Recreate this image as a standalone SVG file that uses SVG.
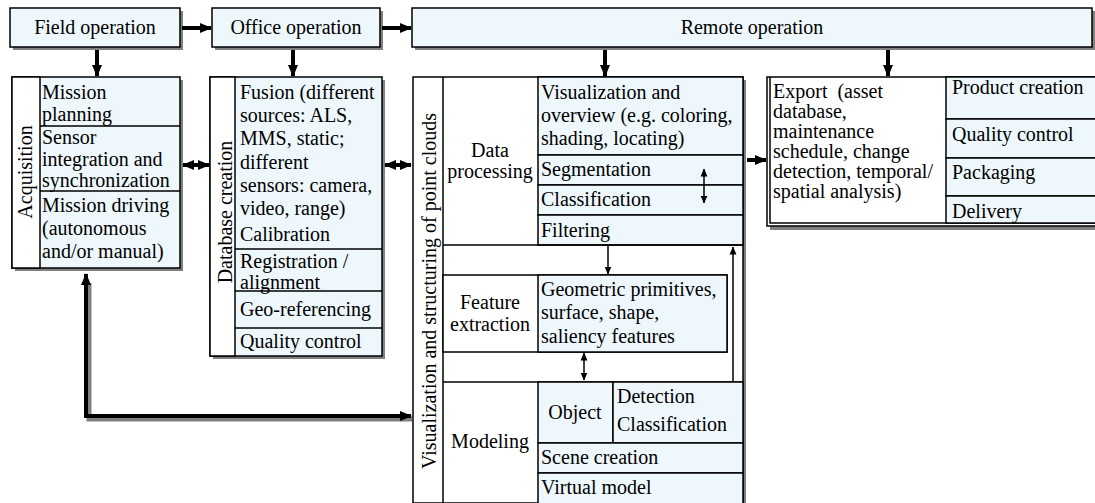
<svg xmlns="http://www.w3.org/2000/svg" width="1095" height="503" viewBox="0 0 1095 503" font-family="'Liberation Serif', 'DejaVu Serif', serif" font-size="20">
<defs>
<marker id="ah" markerUnits="userSpaceOnUse" markerWidth="12" markerHeight="12" viewBox="0 0 12 12" refX="11" refY="6" orient="auto-start-reverse"><path d="M0,1 L12,6 L0,11 Z" fill="#000"/></marker>
<marker id="at" markerUnits="userSpaceOnUse" markerWidth="8" markerHeight="8" viewBox="0 0 8 8" refX="7.5" refY="4" orient="auto-start-reverse"><path d="M0,0.5 L8,4 L0,7.5 Z" fill="#000"/></marker>
<style>
text{font-family:'Liberation Serif','DejaVu Serif',serif;font-size:20px;fill:#000}
.m{text-anchor:middle}
.sh{fill:#808080}
.bx{fill:#eef7fb;stroke:#000;stroke-width:1.5}
.wb{fill:#fff;stroke:#000;stroke-width:1.5}
.ln{stroke:#000;stroke-width:1.5;fill:none}
.thick{stroke:#000;stroke-width:4;fill:none}
.thin{stroke:#000;stroke-width:1.5;fill:none}
</style>
</defs>
<rect width="1095" height="503" fill="#fff"/>

<g id="field">
<rect class="sh" x="13" y="11" width="170" height="39"/>
<rect class="bx" x="10" y="8" width="170" height="39"/>
<text class="m" x="95" y="34">Field operation</text>
</g>
<g id="office">
<rect class="sh" x="215" y="11" width="168" height="39"/>
<rect class="bx" x="212" y="8" width="168" height="39"/>
<text class="m" x="296" y="34">Office operation</text>
</g>
<g id="remote">
<rect class="sh" x="415" y="11" width="680" height="39"/>
<rect class="bx" x="412" y="8" width="680" height="39"/>
<text class="m" x="752" y="34">Remote operation</text>
</g>

<g id="acquisition">
<rect class="sh" x="15" y="80" width="168" height="191"/>
<rect class="bx" x="12" y="77" width="168" height="191"/>
<rect class="wb" x="12" y="77" width="28" height="191"/>
<line class="ln" x1="40" y1="126" x2="180" y2="126"/>
<line class="ln" x1="40" y1="191" x2="180" y2="191"/>
<text class="m" transform="translate(32,172) rotate(-90)">Acquisition</text>
<text x="42" y="99">Mission</text>
<text x="42" y="121">planning</text>
<text x="42" y="144">Sensor</text>
<text x="42" y="166">integration and</text>
<text x="42" y="187">synchronization</text>
<text x="42" y="212">Mission driving</text>
<text x="42" y="235">(autonomous</text>
<text x="42" y="258">and/or manual)</text>
</g>

<g id="database">
<rect class="sh" x="213" y="80" width="172" height="279"/>
<rect class="bx" x="210" y="77" width="172" height="279"/>
<rect class="wb" x="210" y="77" width="25" height="279"/>
<line class="ln" x1="235" y1="249" x2="382" y2="249"/>
<line class="ln" x1="235" y1="291" x2="382" y2="291"/>
<line class="ln" x1="235" y1="328" x2="382" y2="328"/>
<text class="m" transform="translate(232,212) rotate(-90)">Database creation</text>
<text x="240" y="99">Fusion (different</text>
<text x="240" y="122">sources: ALS,</text>
<text x="240" y="145">MMS, static;</text>
<text x="240" y="169">different</text>
<text x="240" y="192">sensors: camera,</text>
<text x="240" y="215">video, range)</text>
<text x="240" y="241">Calibration</text>
<text x="240" y="268">Registration /</text>
<text x="240" y="289">alignment</text>
<text x="240" y="316">Geo-referencing</text>
<text x="240" y="348">Quality control</text>
</g>

<g id="visualization">
<rect class="sh" x="416" y="80" width="330" height="426"/>
<rect class="wb" x="413" y="77" width="330" height="426"/>
<line class="ln" x1="443" y1="77" x2="443" y2="503"/>
<text class="m" transform="translate(436,291) rotate(-90)">Visualization and structuring of point clouds</text>
</g>

<g id="data-processing">
<rect class="bx" x="538" y="77" width="205" height="78"/>
<rect class="bx" x="538" y="155" width="205" height="30"/>
<rect class="bx" x="538" y="185" width="205" height="30"/>
<rect class="bx" x="538" y="215" width="205" height="30"/>
<line class="ln" x1="443" y1="245" x2="743" y2="245"/>
<text class="m" x="490" y="157">Data</text>
<text class="m" x="490" y="178">processing</text>
<text x="541" y="99">Visualization and</text>
<text x="541" y="122">overview (e.g. coloring,</text>
<text x="541" y="145">shading, locating)</text>
<text x="541" y="176">Segmentation</text>
<text x="541" y="206">Classification</text>
<text x="541" y="237">Filtering</text>
</g>

<g id="feature-extraction">
<rect class="wb" x="443" y="275" width="284" height="77"/>
<rect class="bx" x="538" y="275" width="189" height="77"/>
<text class="m" x="490" y="309">Feature</text>
<text class="m" x="490" y="331">extraction</text>
<text x="541" y="296">Geometric primitives,</text>
<text x="541" y="319">surface, shape,</text>
<text x="541" y="343">saliency features</text>
</g>

<g id="modeling">
<line class="ln" x1="443" y1="382" x2="743" y2="382"/>
<rect class="bx" x="538" y="382" width="75" height="61"/>
<rect class="bx" x="613" y="382" width="130" height="61"/>
<rect class="bx" x="538" y="443" width="205" height="30"/>
<rect class="bx" x="538" y="473" width="205" height="32"/>
<text class="m" x="490" y="448">Modeling</text>
<text class="m" x="575" y="419">Object</text>
<text x="617" y="403">Detection</text>
<text x="617" y="431">Classification</text>
<text x="541" y="464">Scene creation</text>
<text x="541" y="494">Virtual model</text>
</g>

<g id="export">
<rect class="sh" x="770" y="80" width="330" height="150"/>
<rect class="wb" x="767" y="77" width="330" height="149"/>
<polyline class="ln" points="770,77 770,223 1097,223"/>
<rect class="bx" x="946" y="77" width="150" height="42"/>
<rect class="bx" x="946" y="119" width="150" height="39"/>
<rect class="bx" x="946" y="158" width="150" height="38"/>
<rect class="bx" x="946" y="196" width="150" height="27"/>
<text x="773" y="98" xml:space="preserve">Export  (asset</text>
<text x="773" y="118">database,</text>
<text x="773" y="138">maintenance</text>
<text x="773" y="158">schedule, change</text>
<text x="773" y="178">detection, temporal/</text>
<text x="773" y="198">spatial analysis)</text>
<text x="952" y="94">Product creation</text>
<text x="952" y="141">Quality control</text>
<text x="952" y="179">Packaging</text>
<text x="952" y="218">Delivery</text>
</g>

<g id="connectors">
<line class="thick" x1="182" y1="28" x2="211" y2="28" marker-end="url(#ah)"/>
<line class="thick" x1="382" y1="28" x2="411" y2="28" marker-end="url(#ah)"/>
<line class="thick" x1="97" y1="50" x2="97" y2="76" marker-end="url(#ah)"/>
<line class="thick" x1="293" y1="50" x2="293" y2="76" marker-end="url(#ah)"/>
<line class="thick" x1="605" y1="50" x2="605" y2="76" marker-end="url(#ah)"/>
<line class="thick" x1="888" y1="50" x2="888" y2="76" marker-end="url(#ah)"/>
<line class="thick" stroke-width="3" x1="183" y1="165" x2="209" y2="165" marker-start="url(#ah)" marker-end="url(#ah)"/>
<line class="thick" stroke-width="3" x1="385" y1="165" x2="411" y2="165" marker-start="url(#ah)" marker-end="url(#ah)"/>
<line class="thick" x1="747" y1="160" x2="766" y2="160" marker-end="url(#ah)"/>
<polyline points="89,283 89,419 412,419" fill="none" stroke="#808080" stroke-width="5"/>
<polyline class="thick" stroke-width="5" points="86,274 86,416 411,416" marker-start="url(#ah)" marker-end="url(#ah)"/>
<line class="thin" x1="704" y1="169" x2="704" y2="203" marker-start="url(#at)" marker-end="url(#at)"/>
<line class="thin" x1="608" y1="246" x2="608" y2="274" marker-end="url(#at)"/>
<line class="thin" x1="733" y1="382" x2="733" y2="247" marker-end="url(#at)"/>
<line class="thin" x1="584" y1="353" x2="584" y2="380" marker-start="url(#at)" marker-end="url(#at)"/>
</g>
</svg>
